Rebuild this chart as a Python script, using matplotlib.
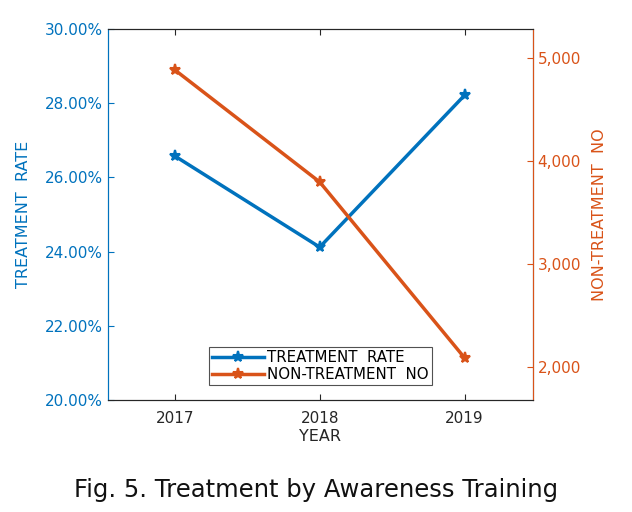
import numpy as np
import matplotlib.pyplot as plt
from matplotlib.ticker import FuncFormatter

plt.rcParams['font.family'] = ['DejaVu Sans']

years = [2017, 2018, 2019]
treatment_rate = [26.58, 24.12, 28.22]      # percent
non_treatment_no = [4885, 3796, 2087]

blue = '#0072BD'
orange = '#D95319'

fig = plt.figure(figsize=(6.32, 5.12), dpi=100)
ax = fig.add_axes([0.171, 0.219, 0.672, 0.724])
ax2 = ax.twinx()

ax.plot(years, treatment_rate, color=blue, lw=2.5, marker='*', ms=8,
        mew=1.5, label='TREATMENT  RATE')
ax2.plot(years, non_treatment_no, color=orange, lw=2.5, marker='*', ms=8,
         mew=1.5, label='NON-TREATMENT  NO')

ax.set_xlim(2016.54, 2019.47)
ax.set_xticks(years)
ax.set_ylim(20, 30)
ax.set_yticks(np.arange(20, 31, 2))
ax.yaxis.set_major_formatter(FuncFormatter(lambda v, p: f'{v:.2f}%'))
ax2.set_ylim(1680, 5280)
ax2.set_yticks([2000, 3000, 4000, 5000])
ax2.yaxis.set_major_formatter(FuncFormatter(lambda v, p: f'{int(v):,}'))

fs = 11
ax.tick_params(axis='x', direction='in', top=True, labelsize=fs,
               colors='#262626', length=4, pad=8)
ax.tick_params(axis='y', direction='in', colors=blue, labelsize=fs, length=4)
ax2.tick_params(axis='y', direction='in', colors=orange, labelsize=fs, length=4)

for a in (ax, ax2):
    a.spines['top'].set_color('#262626')
    a.spines['bottom'].set_color('#262626')
ax2.spines['left'].set_color(blue)
ax2.spines['right'].set_color(orange)
ax.spines['left'].set_color(blue)

ax.set_xlabel('YEAR', fontsize=fs + 0.5, color='#262626', labelpad=2)
ax.set_ylabel('TREATMENT  RATE', fontsize=fs + 0.5, color=blue, labelpad=10)
ax2.set_ylabel('NON-TREATMENT  NO', fontsize=fs + 0.5, color=orange, labelpad=8)

h1, l1 = ax.get_legend_handles_labels()
h2, l2 = ax2.get_legend_handles_labels()
leg = ax2.legend(h1 + h2, l1 + l2, loc='lower center',
                 bbox_to_anchor=(0.5, 0.04), fontsize=fs - 0.2,
                 frameon=True, fancybox=False, borderpad=0.2,
                 handlelength=3.5, handletextpad=0.2, labelspacing=0.15,
                 borderaxespad=0)
leg.get_frame().set_edgecolor('#262626')
leg.get_frame().set_linewidth(0.8)

fig.text(0.5, 0.043, 'Fig. 5. Treatment by Awareness Training', ha='center',
         va='center', fontsize=17.5, color='#111111')

fig.savefig('out.png', dpi=100)
